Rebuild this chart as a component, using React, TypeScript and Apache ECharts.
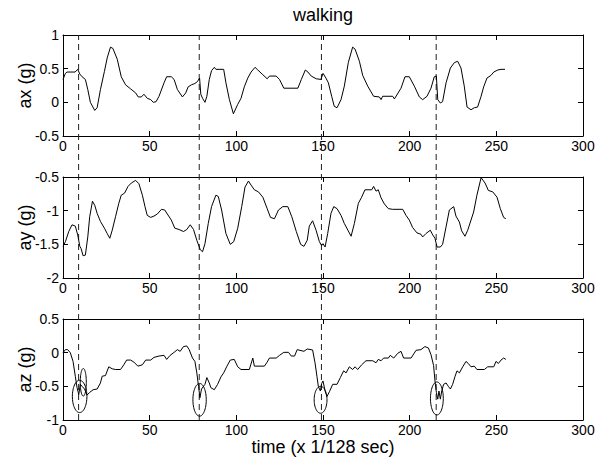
import React, { useEffect, useRef } from "react";
import * as echarts from "echarts";

const FONT = "Liberation Sans, Arial, sans-serif";

const titleText = "walking";
const xAxisName = "time (x 1/128 sec)";
const yNames = ["ax (g)", "ay (g)", "az (g)"];
const yMins = [-0.5, -2, -1];
const yMaxs = [1, -0.5, 0.5];
const xMin = 0;
const xMax = 300;

const axT = [0, 1.4, 2.3, 7, 8.5, 9.7, 11, 12.9, 14.3, 15.8, 18.3, 19.7, 21.6, 23.9, 25.5, 27.4, 28.8, 31.3, 33.6, 36.1, 39, 41.9, 43.4, 45.2, 46.7, 48.6, 50.6, 52.1, 53.7, 55.4, 58.3, 59.8, 62.5, 64.1, 66, 68.9, 70.8, 72.2, 74.1, 76.1, 77.6, 78.8, 79.5, 80.5, 81.9, 83, 84.4, 85.7, 87.3, 88.2, 92.7, 94, 96, 98.3, 100.8, 102.7, 104.6, 106.6, 108.5, 110.8, 112.4, 115.3, 117.8, 119.1, 123, 124.9, 127.4, 135.5, 137.5, 139.8, 141.3, 143.2, 146.1, 148.8, 150, 151.7, 153.1, 155, 156.5, 158.1, 160.4, 162.3, 164.6, 167.1, 168.5, 171, 172.9, 175.8, 179.2, 182.5, 183.5, 184.4, 190.2, 191.2, 195, 197.3, 199.8, 202.7, 205.6, 207.5, 210, 212.3, 214.2, 215.4, 216.2, 217.7, 219, 221, 223.5, 225.8, 227.7, 229.6, 231.5, 233.1, 235.4, 237.3, 239.2, 241.2, 242.7, 244.6, 246.9, 248.5, 250.8, 252.7, 255];
const axV = [0.34, 0.43, 0.45, 0.45, 0.49, 0.42, 0.38, 0.34, 0.19, 0, -0.12, -0.08, 0.19, 0.46, 0.66, 0.82, 0.8, 0.64, 0.38, 0.26, 0.2, 0.14, 0.08, 0.08, 0.12, 0.06, 0.04, 0, 0.01, 0.09, 0.29, 0.38, 0.38, 0.34, 0.19, 0.08, 0.14, 0.23, 0.26, 0.28, 0.31, 0.36, 0.12, 0.06, 0, 0.09, 0.34, 0.47, 0.52, 0.49, 0.49, 0.29, 0.04, -0.17, -0.03, 0.06, 0.23, 0.36, 0.45, 0.52, 0.48, 0.41, 0.35, 0.39, 0.39, 0.34, 0.21, 0.21, 0.34, 0.48, 0.45, 0.39, 0.35, 0.34, 0.43, 0.36, 0.29, 0.09, -0.06, -0.08, 0.04, 0.24, 0.59, 0.82, 0.79, 0.61, 0.4, 0.24, 0.09, 0.08, 0.04, 0.09, 0.09, 0.05, 0.21, 0.38, 0.38, 0.24, 0.08, 0.04, 0.09, 0.21, 0.38, 0.39, 0.04, -0.01, 0.01, 0.29, 0.51, 0.59, 0.61, 0.51, 0.24, -0.07, -0.11, -0.08, -0.07, 0.09, 0.23, 0.36, 0.4, 0.45, 0.48, 0.49, 0.49];

const ayT = [0, 1.4, 3.3, 5.2, 7.1, 8.5, 9.7, 10.4, 11.6, 12.9, 14.3, 15.4, 17, 18.3, 19.7, 21.6, 23.9, 25.5, 27, 28.4, 30.3, 32.2, 33.6, 35.5, 37.5, 39.4, 41.9, 43.8, 45.8, 47.3, 48.6, 50.6, 52.5, 54.4, 56.8, 58.7, 60.2, 62.5, 64.5, 67, 69.5, 71.4, 73.4, 75.3, 77.2, 79.2, 80.5, 81.9, 83.8, 85.7, 88.2, 89.6, 91.5, 94, 96.5, 98.5, 100.8, 103.1, 105, 107, 108.5, 110.4, 112.7, 115.3, 117.8, 119.7, 122, 124.3, 126.8, 129.7, 132, 134.6, 137.1, 139, 140.9, 142.1, 144, 146, 147.9, 149.2, 150, 151.2, 152.7, 154.6, 156.2, 158.1, 160.4, 162.3, 166.2, 168.1, 170.4, 172.3, 174.2, 178.1, 179.2, 180.6, 181.9, 183.5, 185.4, 187.7, 190.2, 196, 197.9, 199.8, 201.7, 204.2, 206.5, 207.5, 209.4, 211.9, 213.3, 214.6, 215.8, 217.7, 219, 221, 222.9, 225.4, 226.7, 228.7, 230, 231.9, 233.5, 236.9, 238.8, 241.2, 243.5, 245.4, 247.9, 250.4, 252.3, 254.2, 255.5];
const ayV = [-1.53, -1.46, -1.31, -1.21, -1.23, -1.36, -1.53, -1.56, -1.67, -1.66, -1.39, -1.09, -0.86, -0.92, -1.04, -1.16, -1.26, -1.34, -1.41, -1.29, -1.09, -0.89, -0.77, -0.74, -0.64, -0.59, -0.55, -0.6, -0.77, -0.94, -1.07, -1.1, -1.08, -1.05, -0.98, -0.99, -1.05, -1.14, -1.26, -1.28, -1.31, -1.28, -1.21, -1.28, -1.44, -1.58, -1.61, -1.49, -1.19, -0.94, -0.77, -0.79, -0.99, -1.34, -1.5, -1.46, -1.26, -0.94, -0.65, -0.56, -0.62, -0.69, -0.72, -0.8, -0.97, -1.1, -1.12, -0.99, -0.94, -0.94, -1.09, -1.31, -1.5, -1.53, -1.44, -1.23, -1.15, -1.29, -1.46, -1.52, -1.49, -1.54, -1.34, -1.04, -0.94, -0.97, -1.07, -1.19, -1.38, -1.19, -0.89, -0.8, -0.69, -0.69, -0.64, -0.71, -0.69, -0.81, -0.9, -0.97, -0.98, -0.98, -1.07, -1.14, -1.25, -1.33, -1.35, -1.39, -1.34, -1.29, -1.36, -1.41, -1.54, -1.54, -1.5, -1.24, -0.99, -0.94, -1.08, -1.17, -1.3, -1.38, -1.29, -1.02, -0.77, -0.51, -0.59, -0.7, -0.72, -0.8, -0.97, -1.1, -1.12];

const azT = [0, 1.4, 2.7, 4.2, 5.8, 7.1, 8.1, 9.1, 10, 11, 12.4, 13.9, 15.4, 17.4, 19.7, 21.6, 22.6, 24.5, 26.4, 28.4, 30.3, 33.2, 35.1, 36.7, 39, 40.9, 43.2, 45.8, 47.7, 50.6, 52.5, 55.4, 58.3, 59.8, 61.8, 64.1, 66, 67.6, 69.5, 71.4, 72.8, 74.7, 76.1, 77.2, 78.2, 79, 79.9, 81.9, 83, 84.4, 85.3, 87.3, 89.2, 91.1, 92.7, 94.6, 96.5, 98.8, 100.8, 102.7, 107.5, 109.5, 110.4, 116.2, 117.8, 119.1, 123, 124.9, 127.4, 130.1, 131.7, 133.6, 135.1, 139, 140.9, 144, 145.4, 146.5, 147.3, 148.5, 149.2, 150, 151.2, 152.3, 153.7, 155.6, 158.1, 160, 161.9, 163.3, 165.2, 167.1, 168.5, 170, 172.3, 174.8, 178.7, 180.6, 181.9, 183.5, 185, 187.7, 188.8, 190.8, 193.1, 195, 196.5, 200.8, 203.7, 206.5, 208.8, 210.8, 212.3, 213.8, 214.6, 215.4, 216.2, 216.9, 217.7, 218.5, 219.6, 221, 222.3, 223.5, 224.8, 226.2, 227.3, 228.7, 230.6, 232.5, 233.8, 235.4, 237.3, 238.8, 243.1, 245, 248.5, 249.8, 251.2, 252.7, 254.2, 255.5];
const azV = [0, 0.045, 0.045, 0, -0.13, -0.35, -0.52, -0.62, -0.47, -0.5, -0.54, -0.63, -0.59, -0.55, -0.54, -0.45, -0.35, -0.34, -0.21, -0.24, -0.25, -0.25, -0.18, -0.11, -0.11, -0.14, -0.2, -0.18, -0.11, -0.11, -0.07, -0.05, -0.04, -0.1, -0.04, 0.005, 0.045, 0.02, 0.09, 0.1, 0.045, -0.08, -0.13, -0.3, -0.5, -0.67, -0.54, -0.47, -0.37, -0.45, -0.52, -0.55, -0.47, -0.36, -0.3, -0.2, -0.11, -0.1, -0.21, -0.25, -0.25, -0.08, -0.2, -0.2, -0.14, -0.08, -0.08, -0.04, 0.005, 0.005, -0.05, -0.05, 0.045, 0.02, 0.055, 0.04, -0.15, -0.35, -0.5, -0.57, -0.46, -0.42, -0.57, -0.65, -0.58, -0.47, -0.47, -0.37, -0.27, -0.3, -0.21, -0.25, -0.21, -0.25, -0.18, -0.12, -0.12, -0.15, -0.1, -0.12, -0.08, -0.08, -0.04, -0.08, -0.01, 0.02, -0.08, -0.08, 0.035, 0.045, 0.09, 0.07, -0.03, -0.19, -0.42, -0.59, -0.69, -0.57, -0.69, -0.57, -0.47, -0.45, -0.5, -0.54, -0.47, -0.35, -0.27, -0.3, -0.21, -0.13, -0.16, -0.21, -0.2, -0.25, -0.25, -0.21, -0.21, -0.13, -0.16, -0.11, -0.08, -0.1];

// step-event markers (time) shared across the three panels
const eventTimes = [9, 78.6, 149.1, 215.3];

// ellipses in az panel: centre time, centre value, half-width (time), half-height (g)
const ellCx = [9.6, 11.7, 78.8, 148.6, 215.7];
const ellCy = [-0.65, -0.44, -0.7, -0.7, -0.68];
const ellRx = [4.2, 1.75, 3.85, 3.7, 3.7];
const ellRy = [0.24, 0.205, 0.243, 0.2, 0.245];

const zip = (t: number[], v: number[]) => t.map((x, i) => [x, v[i]]);

export default function App() {
  const ref = useRef<HTMLDivElement>(null);
  useEffect(() => {
    if (!ref.current) return;
    const chart = echarts.init(ref.current, undefined, { renderer: "svg" });

    const L = 63;
    const R = 21;
    const tops = [35, 177, 319];
    const H = 101;

    const grids: any[] = tops.map((t) => ({ left: L, right: R, top: t, height: H }));
    grids.push({ left: L, right: R, top: tops[0], height: tops[2] + H - tops[0] });

    const lblStyle = { fontFamily: FONT, fontSize: 14, color: "#000" };
    const tickStyle = { show: true, inside: true, length: 5, lineStyle: { color: "#000", width: 1 } };
    const lineStyleAx = { show: true, onZero: false, lineStyle: { color: "#000", width: 1 } };

    const xAxes: any[] = [];
    const yAxes: any[] = [];
    for (let i = 0; i < 3; i++) {
      xAxes.push({
        type: "value", gridIndex: i, min: xMin, max: xMax, interval: 50, position: "bottom",
        axisLine: lineStyleAx, axisTick: tickStyle, splitLine: { show: false },
        axisLabel: { ...lblStyle, margin: 3 },
        name: i === 2 ? xAxisName : "", nameLocation: "middle", nameGap: 14,
        nameTextStyle: { fontFamily: FONT, fontSize: 18, color: "#000" },
      });
      yAxes.push({
        type: "value", gridIndex: i, min: yMins[i], max: yMaxs[i], interval: 0.5, position: "left",
        axisLine: lineStyleAx, axisTick: tickStyle, splitLine: { show: false },
        axisLabel: { ...lblStyle, margin: 4 },
        name: yNames[i], nameLocation: "middle", nameGap: 29, nameMoveOverlap: false,
        nameTextStyle: { fontFamily: FONT, fontSize: 18, color: "#000" },
      });
    }
    for (let i = 0; i < 3; i++) {
      xAxes.push({
        type: "value", gridIndex: i, min: xMin, max: xMax, interval: 50, position: "top",
        axisLine: lineStyleAx, axisTick: tickStyle, splitLine: { show: false }, axisLabel: { show: false },
      });
      yAxes.push({
        type: "value", gridIndex: i, min: yMins[i], max: yMaxs[i], interval: 0.5, position: "right",
        axisLine: lineStyleAx, axisTick: tickStyle, splitLine: { show: false }, axisLabel: { show: false },
      });
    }
    xAxes.push({ type: "value", gridIndex: 3, min: xMin, max: xMax, show: false });
    yAxes.push({ type: "value", gridIndex: 3, min: 0, max: 1, show: false });

    const sig = [zip(axT, axV), zip(ayT, ayV), zip(azT, azV)];
    const series: any[] = sig.map((d, i) => ({
      type: "line", xAxisIndex: i, yAxisIndex: i, data: d, showSymbol: false, symbol: "none",
      lineStyle: { color: "#000", width: 1 }, silent: true,
    }));

    eventTimes.forEach((t) => {
      series.push({
        type: "line", xAxisIndex: 6, yAxisIndex: 6, data: [[t, 0], [t, 1]], showSymbol: false, symbol: "none",
        lineStyle: { color: "#222", width: 1, type: [6, 4] }, silent: true, z: 1,
      });
    });

    series.push({
      type: "custom", xAxisIndex: 2, yAxisIndex: 2, silent: true,
      data: ellCx.map((c, i) => [c, ellCy[i], ellRx[i], ellRy[i]]),
      renderItem: (_p: any, api: any) => {
        const cx = api.value(0), cy = api.value(1), rx = api.value(2), ry = api.value(3);
        const pts: number[][] = [];
        for (let k = 0; k < 64; k++) {
          const a = (k / 64) * Math.PI * 2;
          pts.push(api.coord([cx + rx * Math.cos(a), cy + ry * Math.sin(a)]));
        }
        return { type: "polygon", shape: { points: pts }, style: { fill: "none", stroke: "#000", lineWidth: 1 } };
      },
    });

    chart.setOption({
      animation: false,
      backgroundColor: "#fff",
      title: {
        text: titleText, left: 293, top: 6, padding: 0,
        textStyle: { fontFamily: FONT, fontSize: 18, fontWeight: "normal", color: "#000" },
      },
      grid: grids,
      xAxis: xAxes,
      yAxis: yAxes,
      series,
    });
    return () => chart.dispose();
  }, []);
  return <div ref={ref} style={{ position: "absolute", left: 0, top: 0, width: 604, height: 464, background: "#fff" }} />;
}
